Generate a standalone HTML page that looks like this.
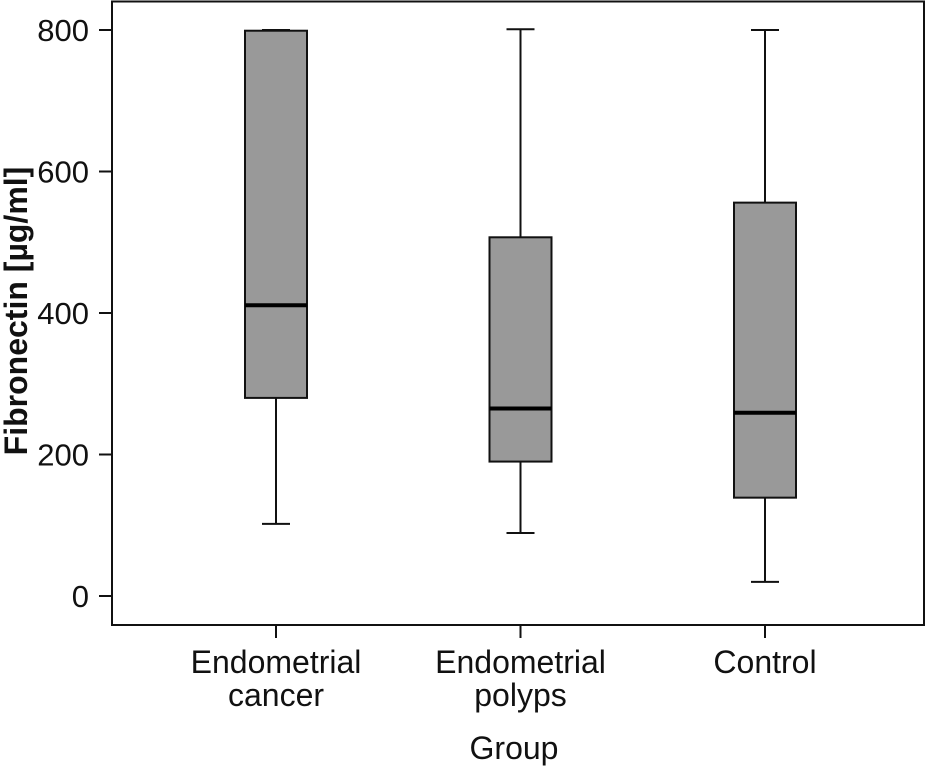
<!DOCTYPE html>
<html><head><meta charset="utf-8"><style>
html,body{margin:0;padding:0;background:#fff;}
svg text{font-family:"Liberation Sans","DejaVu Sans",sans-serif;fill:#111;}
</style></head><body>
<svg id="chart" width="927" height="767" xmlns="http://www.w3.org/2000/svg">
<rect x="112" y="1.5" width="812" height="623.5" fill="none" stroke="#111" stroke-width="2"/>
<g id="yaxis"></g>
<g id="xaxis"></g>
<g id="boxes"></g>
<text transform="translate(27,311) rotate(-90)" text-anchor="middle" font-size="32" font-weight="bold">Fibronectin [µg/ml]</text>
<text x="514" y="759" text-anchor="middle" font-size="32">Group</text>
</svg>
<script>
const categories=[["Endometrial","cancer"],["Endometrial","polyps"],["Control"]];
const whiskerLow=[102,89,20];
const q1=[280,190,139];
const median=[411,265,259];
const q3=[799,507,556];
const whiskerHigh=[800,801,800];
const yTicks=[0,200,400,600,800];

const NS="http://www.w3.org/2000/svg";
function y(v){return 596-v*(566/800);}
function x(i){return 276+i*244.5;}
function mk(tag,attrs,parent){const e=document.createElementNS(NS,tag);for(const k in attrs)e.setAttribute(k,attrs[k]);parent.appendChild(e);return e;}
const ya=document.getElementById('yaxis'),xa=document.getElementById('xaxis'),bx=document.getElementById('boxes');
yTicks.forEach(t=>{
 const l=mk('line',{x1:99,x2:112,y1:y(t),y2:y(t),stroke:'#111','stroke-width':2},ya);
 
 
 const tx=mk('text',{x:89,y:y(t)+11,'text-anchor':'end','font-size':31},ya);
 tx.textContent=t;
 
 
});
categories.forEach((c,i)=>{
 const cx=x(i);
 const l=mk('line',{x1:cx,x2:cx,y1:625,y2:638,stroke:'#111','stroke-width':2},xa);
 
 
 c.forEach((s,j)=>{
  const tx=mk('text',{x:cx,y:673+j*33,'text-anchor':'middle','font-size':32},xa);
  tx.textContent=s;
  
  
 });
 const g=mk('g',{},bx);
 
 
 mk('line',{x1:cx,x2:cx,y1:y(whiskerHigh[i]),y2:y(q3[i]),stroke:'#111','stroke-width':2},g);
 mk('line',{x1:cx,x2:cx,y1:y(q1[i]),y2:y(whiskerLow[i]),stroke:'#111','stroke-width':2},g);
 mk('line',{x1:cx-14,x2:cx+14,y1:y(whiskerHigh[i]),y2:y(whiskerHigh[i]),stroke:'#111','stroke-width':2},g);
 mk('line',{x1:cx-14,x2:cx+14,y1:y(whiskerLow[i]),y2:y(whiskerLow[i]),stroke:'#111','stroke-width':2},g);
 mk('rect',{x:cx-31,y:y(q3[i]),width:62,height:y(q1[i])-y(q3[i]),fill:'#999',stroke:'#111','stroke-width':2},g);
 mk('line',{x1:cx-31,x2:cx+31,y1:y(median[i]),y2:y(median[i]),stroke:'#000','stroke-width':4},g);
});
</script>
</body></html>
